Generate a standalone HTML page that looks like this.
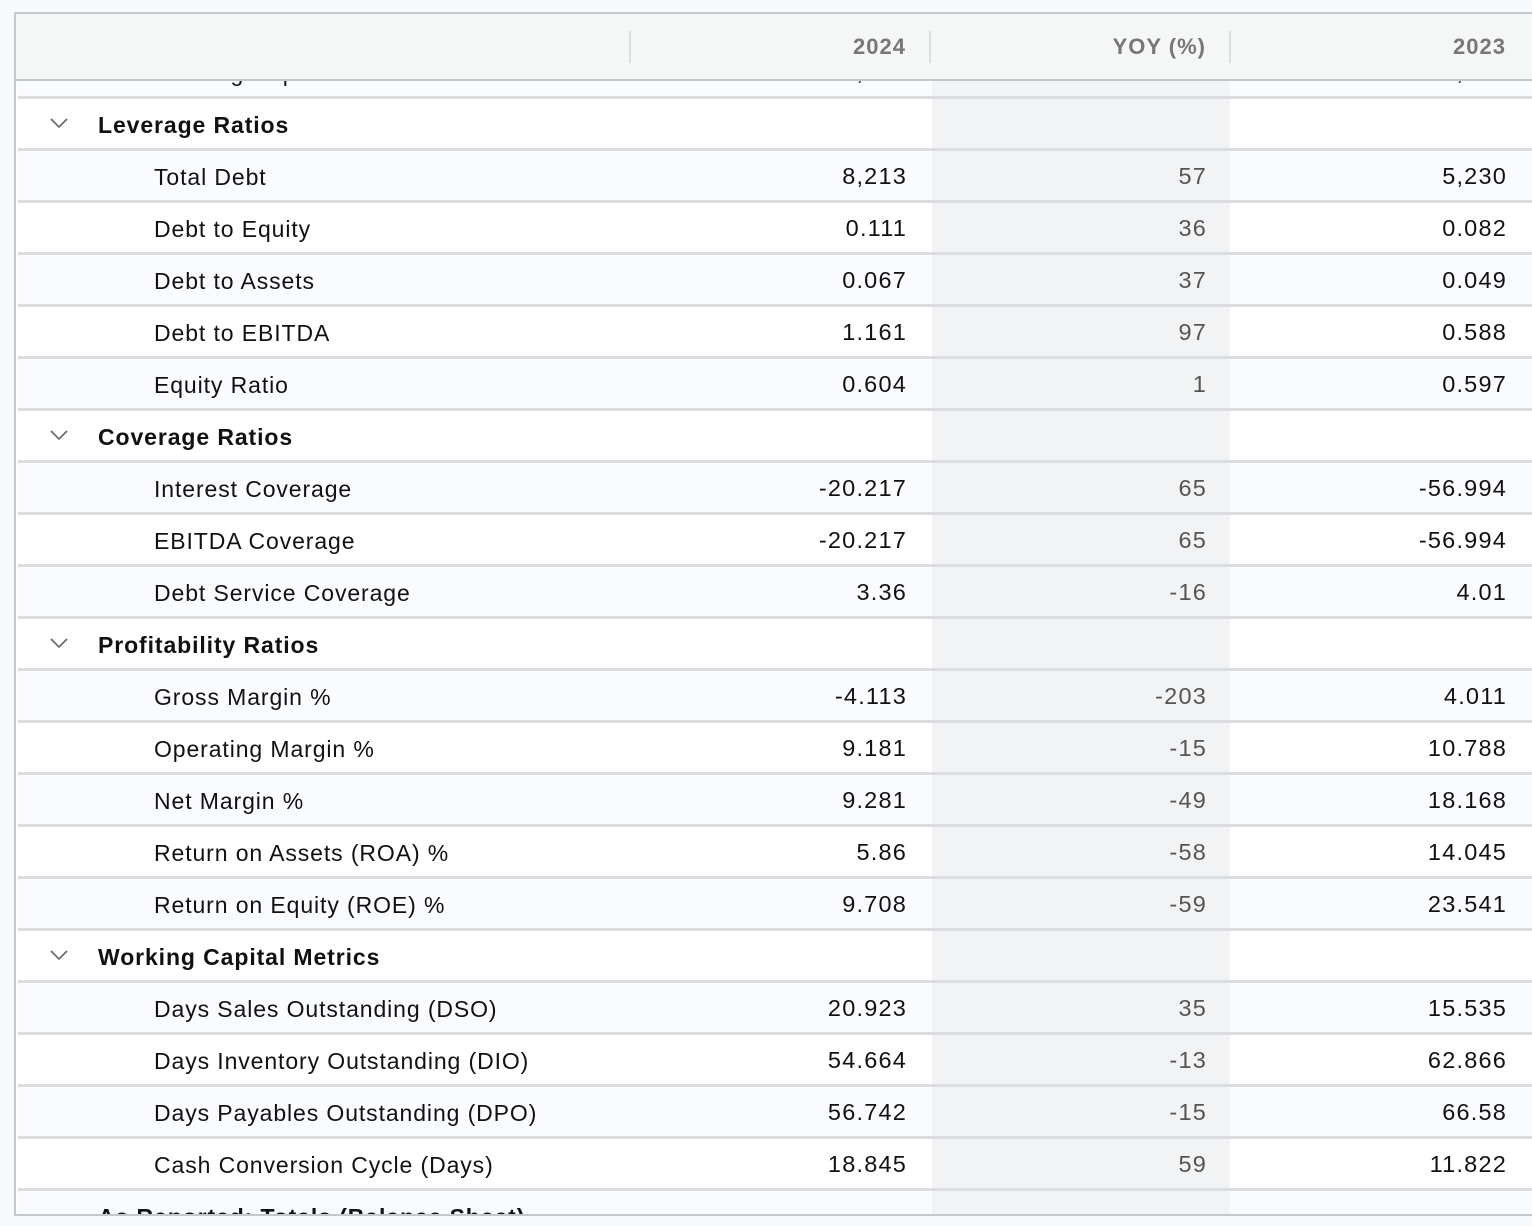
<!DOCTYPE html>
<html><head><style>
body{margin:0;width:1532px;height:1226px;background:#f7f9fb;font-family:"Liberation Sans",Arial,sans-serif;overflow:hidden;position:relative}
#t{position:absolute;left:14px;top:12px;width:1516px;height:1200px;border:2px solid #c4c8cc;border-right:none;overflow:hidden;background:#fff}
.hd{position:absolute;left:0;top:0;width:1516px;height:65px;background:#f5f6f6;border-bottom:2px solid #c4c8cc;z-index:2}
.hd span{position:absolute;top:20px;font-size:22px;color:#777;font-weight:bold;letter-spacing:1px;width:200px;text-align:right}
.vs{position:absolute;top:17px;width:2px;height:32px;background:#dcdee0}
.row{position:absolute;left:2px;width:1514px;height:49px;border-bottom:3px solid #dcdde0}
.a{background:#fafbfe}.b{background:#fff}
.yc{position:absolute;left:914px;top:0;width:298px;height:100%;background:#f2f3f5}
.l{position:absolute;top:13px;font-size:23px;color:#111;letter-spacing:.9px;white-space:nowrap}
.g{font-weight:bold;left:80px}.c{left:136px}
.v{position:absolute;top:12px;font-size:23.5px;color:#111;text-align:right;width:250px;letter-spacing:1.2px}
.v1{left:639px}.v2{left:939px;color:#555}.v3{left:1239px}
.ch{position:absolute;left:32px;top:19px}
</style></head><body>
<svg width="0" height="0" style="position:absolute"><defs><symbol id="cv" viewBox="0 0 18 10"><path d="M1 1 L9 9 L17 1" fill="none" stroke="#666" stroke-width="1.6"/></symbol></defs></svg>
<div id="t">
<div class="hd"><div class="vs" style="left:613px"></div><div class="vs" style="left:913px"></div><div class="vs" style="left:1213px"></div>
<span style="left:690px">2024</span><span style="left:990px">YOY (%)</span><span style="left:1290px">2023</span></div>

<div class="row a" style="top:33px"><div class="yc"></div><span class="l c">Working Capital</span><span class="v v1">20,000</span><span class="v v2">12</span><span class="v v3">20,000</span></div>
<div class="row b" style="top:85px"><div class="yc"></div><svg class="ch" width="18" height="10"><use href="#cv"/></svg><span class="l g">Leverage Ratios</span></div>
<div class="row a" style="top:137px"><div class="yc"></div><span class="l c">Total Debt</span><span class="v v1">8,213</span><span class="v v2">57</span><span class="v v3">5,230</span></div>
<div class="row b" style="top:189px"><div class="yc"></div><span class="l c">Debt to Equity</span><span class="v v1">0.111</span><span class="v v2">36</span><span class="v v3">0.082</span></div>
<div class="row a" style="top:241px"><div class="yc"></div><span class="l c">Debt to Assets</span><span class="v v1">0.067</span><span class="v v2">37</span><span class="v v3">0.049</span></div>
<div class="row b" style="top:293px"><div class="yc"></div><span class="l c">Debt to EBITDA</span><span class="v v1">1.161</span><span class="v v2">97</span><span class="v v3">0.588</span></div>
<div class="row a" style="top:345px"><div class="yc"></div><span class="l c">Equity Ratio</span><span class="v v1">0.604</span><span class="v v2">1</span><span class="v v3">0.597</span></div>
<div class="row b" style="top:397px"><div class="yc"></div><svg class="ch" width="18" height="10"><use href="#cv"/></svg><span class="l g">Coverage Ratios</span></div>
<div class="row a" style="top:449px"><div class="yc"></div><span class="l c">Interest Coverage</span><span class="v v1">-20.217</span><span class="v v2">65</span><span class="v v3">-56.994</span></div>
<div class="row b" style="top:501px"><div class="yc"></div><span class="l c">EBITDA Coverage</span><span class="v v1">-20.217</span><span class="v v2">65</span><span class="v v3">-56.994</span></div>
<div class="row a" style="top:553px"><div class="yc"></div><span class="l c">Debt Service Coverage</span><span class="v v1">3.36</span><span class="v v2">-16</span><span class="v v3">4.01</span></div>
<div class="row b" style="top:605px"><div class="yc"></div><svg class="ch" width="18" height="10"><use href="#cv"/></svg><span class="l g">Profitability Ratios</span></div>
<div class="row a" style="top:657px"><div class="yc"></div><span class="l c">Gross Margin %</span><span class="v v1">-4.113</span><span class="v v2">-203</span><span class="v v3">4.011</span></div>
<div class="row b" style="top:709px"><div class="yc"></div><span class="l c">Operating Margin %</span><span class="v v1">9.181</span><span class="v v2">-15</span><span class="v v3">10.788</span></div>
<div class="row a" style="top:761px"><div class="yc"></div><span class="l c">Net Margin %</span><span class="v v1">9.281</span><span class="v v2">-49</span><span class="v v3">18.168</span></div>
<div class="row b" style="top:813px"><div class="yc"></div><span class="l c">Return on Assets (ROA) %</span><span class="v v1">5.86</span><span class="v v2">-58</span><span class="v v3">14.045</span></div>
<div class="row a" style="top:865px"><div class="yc"></div><span class="l c">Return on Equity (ROE) %</span><span class="v v1">9.708</span><span class="v v2">-59</span><span class="v v3">23.541</span></div>
<div class="row b" style="top:917px"><div class="yc"></div><svg class="ch" width="18" height="10"><use href="#cv"/></svg><span class="l g">Working Capital Metrics</span></div>
<div class="row a" style="top:969px"><div class="yc"></div><span class="l c">Days Sales Outstanding (DSO)</span><span class="v v1">20.923</span><span class="v v2">35</span><span class="v v3">15.535</span></div>
<div class="row b" style="top:1021px"><div class="yc"></div><span class="l c">Days Inventory Outstanding (DIO)</span><span class="v v1">54.664</span><span class="v v2">-13</span><span class="v v3">62.866</span></div>
<div class="row a" style="top:1073px"><div class="yc"></div><span class="l c">Days Payables Outstanding (DPO)</span><span class="v v1">56.742</span><span class="v v2">-15</span><span class="v v3">66.58</span></div>
<div class="row b" style="top:1125px"><div class="yc"></div><span class="l c">Cash Conversion Cycle (Days)</span><span class="v v1">18.845</span><span class="v v2">59</span><span class="v v3">11.822</span></div>
<div class="row a" style="top:1177px"><div class="yc"></div><span class="l g">As Reported: Totals (Balance Sheet)</span></div>
</div>
</body></html>
